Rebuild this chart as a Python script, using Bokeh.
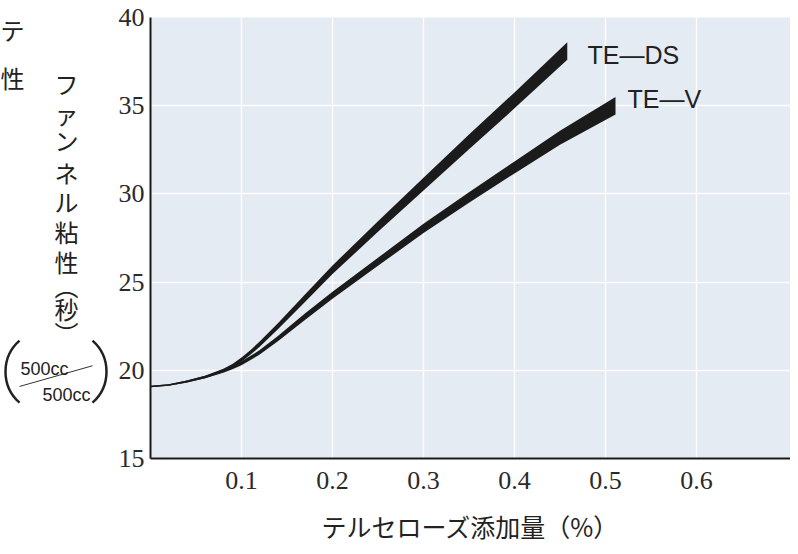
import math
from bokeh.plotting import figure
from bokeh.models import Label, FixedTicker, Arrow, Range1d
from bokeh.layouts import row
from bokeh.embed import file_html
from bokeh.resources import INLINE

# ---- data ----
x_ds = [0.0, 0.02, 0.04, 0.06, 0.08, 0.09, 0.10, 0.11, 0.12, 0.14, 0.17, 0.20, 0.25, 0.30, 0.35, 0.40, 0.458]
ds_low = [19.04, 19.125, 19.305, 19.555, 19.91, 20.16, 20.48, 20.89, 21.33, 22.33, 23.89, 25.46, 27.85, 30.19, 32.53, 34.85, 37.60]
ds_high = [19.12, 19.215, 19.415, 19.685, 20.09, 20.36, 20.72, 21.15, 21.63, 22.67, 24.31, 25.94, 28.45, 30.91, 33.37, 35.75, 38.60]

x_v = [0.0, 0.02, 0.04, 0.06, 0.08, 0.09, 0.10, 0.11, 0.12, 0.14, 0.17, 0.20, 0.25, 0.30, 0.35, 0.40, 0.45, 0.511]
v_low = [19.04, 19.125, 19.305, 19.555, 19.865, 20.055, 20.29, 20.58, 20.89, 21.65, 22.87, 24.05, 25.92, 27.79, 29.50, 31.16, 32.78, 34.50]
v_high = [19.12, 19.215, 19.415, 19.685, 20.035, 20.245, 20.51, 20.82, 21.15, 21.95, 23.23, 24.45, 26.38, 28.31, 30.10, 31.84, 33.58, 35.50]

series_names = ["TE\u2014DS", "TE\u2014V"]
x_ticks = [0.1, 0.2, 0.3, 0.4, 0.5, 0.6]
y_ticks = [15, 20, 25, 30, 35, 40]
y_grid = [20, 25, 30, 35]
x_title = "テルセローズ添加量（%）"
y_title_chars = ["フ", "ァ", "ン", "ネ", "ル", "粘", "性", "︵", "秒", "︶"]
unit_text = "500cc"

# ---- layout constants ----
LW, H = 112, 546
TOP, BOTTOM = 17, 82

# ---- left panel (vertical y title and unit fraction), pixel coordinates (y up) ----
left = figure(width=LW, height=H, x_range=Range1d(0, LW), y_range=Range1d(BOTTOM, H - TOP),
              output_backend="svg", toolbar_location=None,
              x_axis_type=None, y_axis_type=None,
              min_border_left=0, min_border_right=0, min_border_top=TOP, min_border_bottom=BOTTOM)
left.outline_line_color = None
left.background_fill_color = "white"
left.border_fill_color = "white"
left.grid.visible = False

def ltext(text, x, y, size, font="Noto Sans CJK JP", align="center", baseline="middle", color="#222222"):
    left.add_layout(Label(x=x, y=H - y, text=text, text_font=font, text_font_size=size,
                          text_align=align, text_baseline=baseline, text_color=color))

char_y = [84, 114, 141, 174, 203, 234, 264, 289, 312, 336]
for ch, cy in zip(y_title_chars, char_y):
    ltext(ch, 66, cy, "24px")

# big parentheses around the unit fraction
r = 41.3
half = math.asin(31 / r)
left.arc(x=[5 + r], y=[H - 376], radius=r, start_angle=math.pi - half, end_angle=math.pi + half,
         line_width=2.5, line_color="#222222")
left.arc(x=[106 - r], y=[H - 376], radius=r, start_angle=-half, end_angle=half,
         line_width=2.5, line_color="#222222")
ltext(unit_text, 20, 373, "18px", font="Liberation Sans", align="left", baseline="alphabetic")
ltext(unit_text, 42, 400, "18px", font="Liberation Sans", align="left", baseline="alphabetic")
left.add_layout(Arrow(end=None, x_start=19, y_start=H - 391, x_end=92, y_end=H - 370,
                      line_width=1, line_color="#333333"))

# text from a neighbouring figure, cropped at the left edge in the reference
ltext("テ", 0, 29, "24px", align="left")
ltext("性", 0, 78, "24px", align="left")

# ---- main chart ----
p = figure(width=790 - LW, height=H, x_range=Range1d(0, 0.7033), y_range=Range1d(15, 40),
           output_backend="svg", toolbar_location=None,
           min_border_left=38, min_border_right=0, min_border_top=TOP, min_border_bottom=BOTTOM)
p.background_fill_color = "#e5ebf3"
p.border_fill_color = "white"
p.outline_line_color = None

p.varea(x=x_ds, y1=ds_low, y2=ds_high, fill_color="#1b1b1b")
p.varea(x=x_v, y1=v_low, y2=v_high, fill_color="#1b1b1b")

p.xgrid.ticker = FixedTicker(ticks=x_ticks)
p.ygrid.ticker = FixedTicker(ticks=y_grid)
for g in (p.xgrid, p.ygrid):
    g.grid_line_color = "white"
    g.grid_line_width = 1.5
    g.grid_line_alpha = 0.9

p.xaxis.ticker = FixedTicker(ticks=x_ticks)
p.yaxis.ticker = FixedTicker(ticks=y_ticks)
for ax in (p.xaxis, p.yaxis):
    ax.axis_line_color = "#1a1a1a"
    ax.axis_line_width = 2
    ax.major_tick_line_color = None
    ax.minor_tick_line_color = None
    ax.major_tick_out = 0
    ax.major_tick_in = 0
    ax.major_label_text_font = "Liberation Serif"
    ax.major_label_text_font_size = "26px"
    ax.major_label_text_color = "#2a2a2a"
p.yaxis.major_label_standoff = 6
p.xaxis.major_label_standoff = 13
p.xaxis.axis_label = x_title
p.xaxis.axis_label_text_font = "Noto Sans CJK JP"
p.xaxis.axis_label_text_font_style = "normal"
p.xaxis.axis_label_text_font_size = "25px"
p.xaxis.axis_label_text_color = "#222222"
p.xaxis.axis_label_standoff = 16

for name, sx, sy in zip(series_names, [437, 477], [404, 360]):
    p.add_layout(Label(x=sx, y=sy, x_units="screen", y_units="screen", text=name,
                       text_font="Liberation Sans", text_font_size="25px",
                       text_align="left", text_baseline="alphabetic", text_color="#222222"))

layout = row(left, p)
open("out.html", "w").write(file_html(layout, INLINE))
